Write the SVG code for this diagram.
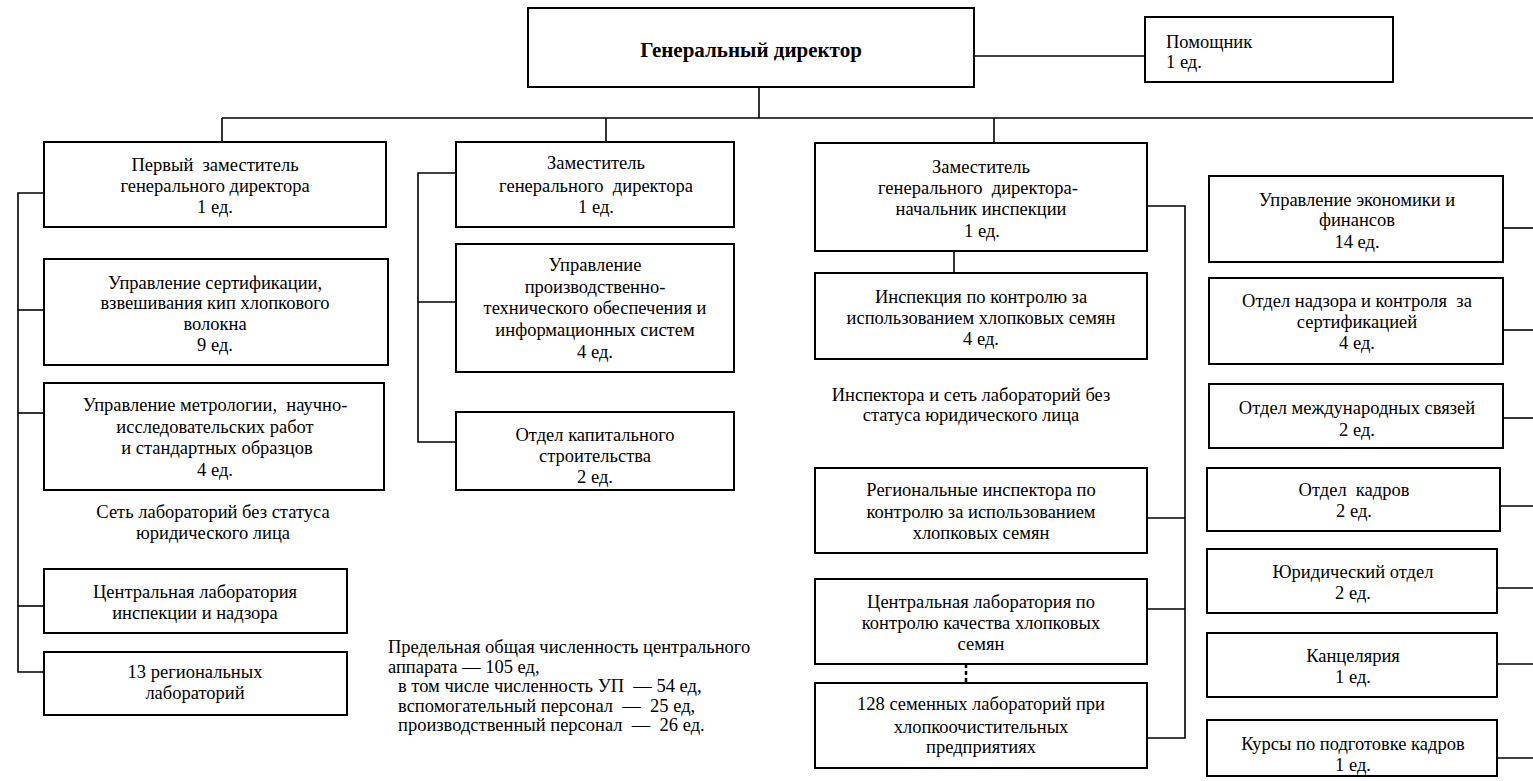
<svg xmlns="http://www.w3.org/2000/svg" width="1533" height="781" viewBox="0 0 1533 781">
<style>
.box{fill:#fff;stroke:#000;stroke-width:2}
.ln{fill:none;stroke:#000;stroke-width:1.6}
.dash{fill:none;stroke:#000;stroke-width:2.5;stroke-dasharray:4 3}
</style>
<rect width="1533" height="781" fill="#fff"/>
<g id="connectors">
<line class="ln" x1="974" y1="56" x2="1145" y2="56"/>
<line class="ln" x1="759" y1="87" x2="759" y2="118"/>
<line class="ln" x1="222" y1="118" x2="1533" y2="118"/>
<line class="ln" x1="222" y1="118" x2="222" y2="142"/>
<line class="ln" x1="606" y1="118" x2="606" y2="142"/>
<line class="ln" x1="994" y1="118" x2="994" y2="143"/>
<polyline class="ln" points="44,193 18,193 18,672 44,672"/>
<line class="ln" x1="18" y1="310" x2="44" y2="310"/>
<line class="ln" x1="18" y1="413" x2="44" y2="413"/>
<line class="ln" x1="18" y1="606" x2="44" y2="606"/>
<polyline class="ln" points="456,173 418,173 418,442 456,442"/>
<line class="ln" x1="418" y1="302" x2="456" y2="302"/>
<polyline class="ln" points="1147,206 1185,206 1185,738 1147,738"/>
<line class="ln" x1="1147" y1="518" x2="1185" y2="518"/>
<line class="ln" x1="1147" y1="609" x2="1185" y2="609"/>
<line class="ln" x1="954" y1="251" x2="954" y2="273"/>
<line class="dash" x1="966" y1="664" x2="966" y2="683"/>
<line class="ln" x1="1503" y1="228" x2="1533" y2="228"/>
<line class="ln" x1="1503" y1="330" x2="1533" y2="330"/>
<line class="ln" x1="1503" y1="418" x2="1533" y2="418"/>
<line class="ln" x1="1495" y1="506" x2="1533" y2="506"/>
<line class="ln" x1="1497" y1="588" x2="1533" y2="588"/>
<line class="ln" x1="1497" y1="664" x2="1533" y2="664"/>
<line class="ln" x1="1497" y1="758" x2="1533" y2="758"/>
</g>
<g id="director">
<rect class="box" x="528" y="8" width="446" height="79"/>
<text style="font-family:'Liberation Serif',serif;font-size:21px;font-weight:bold;text-anchor:middle" x="751" y="57">Генеральный директор</text>
</g>
<g id="assistant">
<rect class="box" x="1145" y="17" width="248" height="65"/>
<text style="font-family:'Liberation Serif',serif;font-size:18.5px" x="1166" y="48">Помощник</text>
<text style="font-family:'Liberation Serif',serif;font-size:18.5px" x="1166" y="68">1 ед.</text>
</g>
<g id="first-deputy">
<rect class="box" x="44" y="142" width="342" height="85"/>
<text style="font-family:'Liberation Serif',serif;font-size:18.5px;text-anchor:middle;white-space:pre" x="215" y="171">Первый  заместитель</text>
<text style="font-family:'Liberation Serif',serif;font-size:18.5px;text-anchor:middle" x="215" y="192">генерального директора</text>
<text style="font-family:'Liberation Serif',serif;font-size:18.5px;text-anchor:middle" x="215" y="213">1 ед.</text>
</g>
<g id="cert">
<rect class="box" x="44" y="259" width="344" height="106"/>
<text style="font-family:'Liberation Serif',serif;font-size:18.5px;text-anchor:middle" x="215" y="289">Управление сертификации,</text>
<text style="font-family:'Liberation Serif',serif;font-size:18.5px;text-anchor:middle" x="215" y="309">взвешивания кип хлопкового</text>
<text style="font-family:'Liberation Serif',serif;font-size:18.5px;text-anchor:middle" x="215" y="330">волокна</text>
<text style="font-family:'Liberation Serif',serif;font-size:18.5px;text-anchor:middle" x="215" y="351">9 ед.</text>
</g>
<g id="metrology">
<rect class="box" x="44" y="383" width="340" height="107"/>
<text style="font-family:'Liberation Serif',serif;font-size:18.5px;text-anchor:middle;white-space:pre" x="215" y="411">Управление метрологии,  научно-</text>
<text style="font-family:'Liberation Serif',serif;font-size:18.5px;text-anchor:middle" x="215" y="433">исследовательских работ</text>
<text style="font-family:'Liberation Serif',serif;font-size:18.5px;text-anchor:middle" x="217" y="454">и стандартных образцов</text>
<text style="font-family:'Liberation Serif',serif;font-size:18.5px;text-anchor:middle" x="215" y="476">4 ед.</text>
</g>
<g id="lab-network-label">
<text style="font-family:'Liberation Serif',serif;font-size:18.5px;text-anchor:middle" x="213" y="518">Сеть лабораторий без статуса</text>
<text style="font-family:'Liberation Serif',serif;font-size:18.5px;text-anchor:middle" x="213" y="539">юридического лица</text>
</g>
<g id="central-lab">
<rect class="box" x="44" y="569" width="303" height="64"/>
<text style="font-family:'Liberation Serif',serif;font-size:18.5px;text-anchor:middle" x="195" y="598">Центральная лаборатория</text>
<text style="font-family:'Liberation Serif',serif;font-size:18.5px;text-anchor:middle" x="195" y="619">инспекции и надзора</text>
</g>
<g id="regional-labs">
<rect class="box" x="44" y="652" width="303" height="63"/>
<text style="font-family:'Liberation Serif',serif;font-size:18.5px;text-anchor:middle" x="195" y="678">13 региональных</text>
<text style="font-family:'Liberation Serif',serif;font-size:18.5px;text-anchor:middle" x="195" y="699">лабораторий</text>
</g>
<g id="deputy2">
<rect class="box" x="456" y="142" width="278" height="85"/>
<text style="font-family:'Liberation Serif',serif;font-size:18.5px;text-anchor:middle" x="596" y="169">Заместитель</text>
<text style="font-family:'Liberation Serif',serif;font-size:18.5px;text-anchor:middle;white-space:pre" x="596" y="192">генерального  директора</text>
<text style="font-family:'Liberation Serif',serif;font-size:18.5px;text-anchor:middle" x="596" y="213">1 ед.</text>
</g>
<g id="production">
<rect class="box" x="456" y="244" width="278" height="128"/>
<text style="font-family:'Liberation Serif',serif;font-size:18.5px;text-anchor:middle" x="595" y="271">Управление</text>
<text style="font-family:'Liberation Serif',serif;font-size:18.5px;text-anchor:middle" x="595" y="293">производственно-</text>
<text style="font-family:'Liberation Serif',serif;font-size:18.5px;text-anchor:middle" x="595" y="314">технического обеспечения и</text>
<text style="font-family:'Liberation Serif',serif;font-size:18.5px;text-anchor:middle" x="595" y="336">информационных систем</text>
<text style="font-family:'Liberation Serif',serif;font-size:18.5px;text-anchor:middle" x="595" y="358">4 ед.</text>
</g>
<g id="construction">
<rect class="box" x="456" y="412" width="278" height="78"/>
<text style="font-family:'Liberation Serif',serif;font-size:18.5px;text-anchor:middle" x="595" y="441">Отдел капитального</text>
<text style="font-family:'Liberation Serif',serif;font-size:18.5px;text-anchor:middle" x="595" y="462">строительства</text>
<text style="font-family:'Liberation Serif',serif;font-size:18.5px;text-anchor:middle" x="595" y="483">2 ед.</text>
</g>
<g id="totals-note">
<text style="font-family:'Liberation Serif',serif;font-size:18.5px" x="388" y="653">Предельная общая численность центрального</text>
<text style="font-family:'Liberation Serif',serif;font-size:18.5px" x="388" y="673">аппарата — 105 ед,</text>
<text style="font-family:'Liberation Serif',serif;font-size:18.5px;white-space:pre" x="398" y="692">в том числе численность УП  — 54 ед,</text>
<text style="font-family:'Liberation Serif',serif;font-size:18.5px;white-space:pre" x="398" y="712">вспомогательный персонал  —  25 ед,</text>
<text style="font-family:'Liberation Serif',serif;font-size:18.5px;white-space:pre" x="398" y="731">производственный персонал  —  26 ед.</text>
</g>
<g id="deputy3">
<rect class="box" x="815" y="143" width="332" height="108"/>
<text style="font-family:'Liberation Serif',serif;font-size:18.5px;text-anchor:middle" x="981" y="173">Заместитель</text>
<text style="font-family:'Liberation Serif',serif;font-size:18.5px;text-anchor:middle;white-space:pre" x="978" y="194">генерального  директора-</text>
<text style="font-family:'Liberation Serif',serif;font-size:18.5px;text-anchor:middle" x="981" y="215">начальник инспекции</text>
<text style="font-family:'Liberation Serif',serif;font-size:18.5px;text-anchor:middle" x="982" y="237">1 ед.</text>
</g>
<g id="inspection">
<rect class="box" x="815" y="273" width="332" height="86"/>
<text style="font-family:'Liberation Serif',serif;font-size:18.5px;text-anchor:middle" x="981" y="303">Инспекция по контролю за</text>
<text style="font-family:'Liberation Serif',serif;font-size:18.5px;text-anchor:middle" x="981" y="324">использованием хлопковых семян</text>
<text style="font-family:'Liberation Serif',serif;font-size:18.5px;text-anchor:middle" x="981" y="345">4 ед.</text>
</g>
<g id="inspectors-label">
<text style="font-family:'Liberation Serif',serif;font-size:18.5px;text-anchor:middle" x="971" y="401">Инспектора и сеть лабораторий без</text>
<text style="font-family:'Liberation Serif',serif;font-size:18.5px;text-anchor:middle" x="971" y="421">статуса юридического лица</text>
</g>
<g id="regional-inspectors">
<rect class="box" x="815" y="468" width="332" height="85"/>
<text style="font-family:'Liberation Serif',serif;font-size:18.5px;text-anchor:middle" x="981" y="496">Региональные инспектора по</text>
<text style="font-family:'Liberation Serif',serif;font-size:18.5px;text-anchor:middle" x="981" y="518">контролю за использованием</text>
<text style="font-family:'Liberation Serif',serif;font-size:18.5px;text-anchor:middle" x="981" y="539">хлопковых семян</text>
</g>
<g id="seed-central-lab">
<rect class="box" x="815" y="579" width="332" height="85"/>
<text style="font-family:'Liberation Serif',serif;font-size:18.5px;text-anchor:middle" x="981" y="608">Центральная лаборатория по</text>
<text style="font-family:'Liberation Serif',serif;font-size:18.5px;text-anchor:middle" x="981" y="629">контролю качества хлопковых</text>
<text style="font-family:'Liberation Serif',serif;font-size:18.5px;text-anchor:middle" x="981" y="650">семян</text>
</g>
<g id="seed-labs">
<rect class="box" x="815" y="683" width="332" height="85"/>
<text style="font-family:'Liberation Serif',serif;font-size:18.5px;text-anchor:middle" x="981" y="710">128 семенных лабораторий при</text>
<text style="font-family:'Liberation Serif',serif;font-size:18.5px;text-anchor:middle" x="981" y="733">хлопкоочистительных</text>
<text style="font-family:'Liberation Serif',serif;font-size:18.5px;text-anchor:middle" x="981" y="753">предприятиях</text>
</g>
<g id="economics">
<rect class="box" x="1209" y="176" width="294" height="86"/>
<text style="font-family:'Liberation Serif',serif;font-size:18.5px;text-anchor:middle" x="1357" y="206">Управление экономики и</text>
<text style="font-family:'Liberation Serif',serif;font-size:18.5px;text-anchor:middle" x="1357" y="226">финансов</text>
<text style="font-family:'Liberation Serif',serif;font-size:18.5px;text-anchor:middle" x="1357" y="248">14 ед.</text>
</g>
<g id="cert-supervision">
<rect class="box" x="1209" y="278" width="294" height="86"/>
<text style="font-family:'Liberation Serif',serif;font-size:18.5px;text-anchor:middle;white-space:pre" x="1357" y="307">Отдел надзора и контроля  за</text>
<text style="font-family:'Liberation Serif',serif;font-size:18.5px;text-anchor:middle" x="1357" y="328">сертификацией</text>
<text style="font-family:'Liberation Serif',serif;font-size:18.5px;text-anchor:middle" x="1357" y="349">4 ед.</text>
</g>
<g id="intl">
<rect class="box" x="1209" y="384" width="294" height="64"/>
<text style="font-family:'Liberation Serif',serif;font-size:18.5px;text-anchor:middle" x="1357" y="414">Отдел международных связей</text>
<text style="font-family:'Liberation Serif',serif;font-size:18.5px;text-anchor:middle" x="1357" y="436">2 ед.</text>
</g>
<g id="hr">
<rect class="box" x="1207" y="468" width="293" height="63"/>
<text style="font-family:'Liberation Serif',serif;font-size:18.5px;text-anchor:middle;white-space:pre" x="1354" y="496">Отдел  кадров</text>
<text style="font-family:'Liberation Serif',serif;font-size:18.5px;text-anchor:middle" x="1354" y="517">2 ед.</text>
</g>
<g id="legal">
<rect class="box" x="1207" y="549" width="290" height="64"/>
<text style="font-family:'Liberation Serif',serif;font-size:18.5px;text-anchor:middle" x="1353" y="578">Юридический отдел</text>
<text style="font-family:'Liberation Serif',serif;font-size:18.5px;text-anchor:middle" x="1353" y="599">2 ед.</text>
</g>
<g id="office">
<rect class="box" x="1207" y="633" width="290" height="64"/>
<text style="font-family:'Liberation Serif',serif;font-size:18.5px;text-anchor:middle" x="1353" y="662">Канцелярия</text>
<text style="font-family:'Liberation Serif',serif;font-size:18.5px;text-anchor:middle" x="1353" y="683">1 ед.</text>
</g>
<g id="courses">
<rect class="box" x="1207" y="720" width="290" height="56"/>
<text style="font-family:'Liberation Serif',serif;font-size:18.5px;text-anchor:middle" x="1353" y="750">Курсы по подготовке кадров</text>
<text style="font-family:'Liberation Serif',serif;font-size:18.5px;text-anchor:middle" x="1353" y="771">1 ед.</text>
</g>
</svg>
